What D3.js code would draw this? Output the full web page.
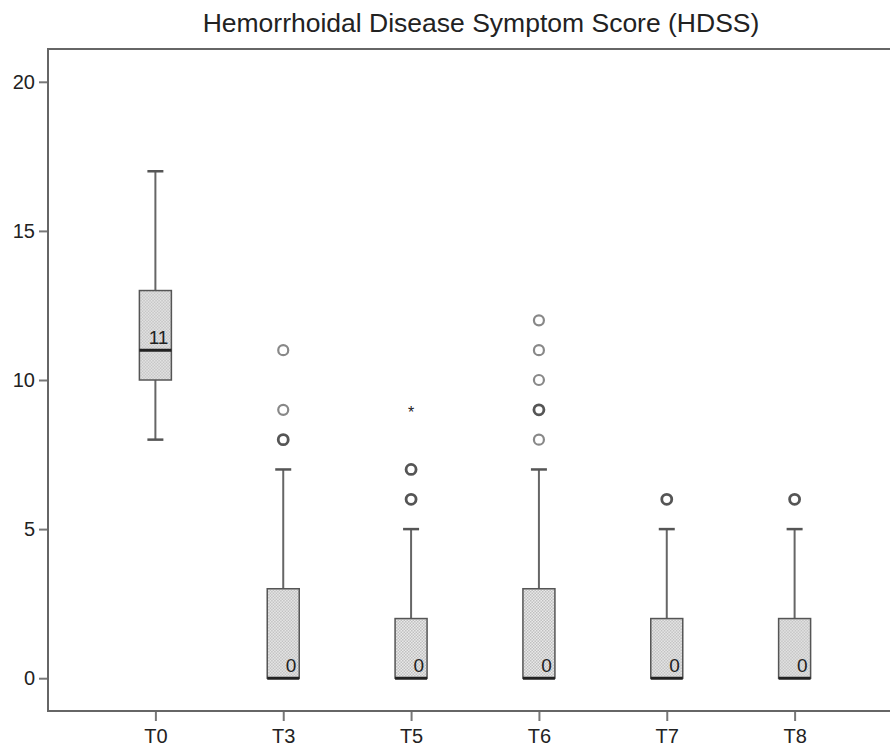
<!DOCTYPE html>
<html>
<head>
<meta charset="utf-8">
<script src="https://cdn.jsdelivr.net/npm/d3@7"></script>
<style>
  body { margin: 0; background: #fff; }
  text { font-family: "Liberation Sans", Arial, sans-serif; fill: #222; }
</style>
</head>
<body>
<svg class="chart" width="890" height="746"></svg>
<script>
// categories and box stats
var categories = ["T0", "T3", "T5", "T6", "T7", "T8"];
var whiskerLow  = [8, 0, 0, 0, 0, 0];
var q1          = [10, 0, 0, 0, 0, 0];
var median      = [11, 0, 0, 0, 0, 0];
var q3          = [13, 3, 2, 3, 2, 2];
var whiskerHigh = [17, 7, 5, 7, 5, 5];
// outliers: [category, value, overlapping count]
var outliers = [
    ["T3", 8, 2], ["T3", 9, 1], ["T3", 11, 1],
    ["T5", 6, 2], ["T5", 7, 2],
    ["T6", 8, 1], ["T6", 9, 2], ["T6", 10, 1], ["T6", 11, 1], ["T6", 12, 1],
    ["T7", 6, 2],
    ["T8", 6, 2]
];
// extremes (drawn as *)
var extremes = [["T5", 9]];
var yTicks = [0, 5, 10, 15, 20];
var title = "Hemorrhoidal Disease Symptom Score (HDSS)";

var svg = d3.select(".chart");

var plotLeft = 48, plotTop = 49, plotBottom = 711, plotRight = 902;

var x = d3.scalePoint()
    .domain(categories)
    .range([plotLeft, plotRight])
    .padding(0.84);

var y = d3.scaleLinear()
    .domain([-1.1, 21.1])
    .range([plotBottom, plotTop]);

// dotted fill pattern
var defs = svg.append("defs");
var pat = defs.append("pattern")
    .attr("id", "dots")
    .attr("width", 3)
    .attr("height", 3)
    .attr("patternUnits", "userSpaceOnUse");
pat.append("rect").attr("width", 3).attr("height", 3).attr("fill", "#ececec");
pat.append("rect").attr("width", 1.5).attr("height", 1.5).attr("fill", "#bdbdbd");
pat.append("rect").attr("x", 1.5).attr("y", 1.5).attr("width", 1.5).attr("height", 1.5).attr("fill", "#bdbdbd");

// title
svg.append("text")
    .attr("x", 481)
    .attr("y", 32)
    .attr("text-anchor", "middle")
    .style("font-size", "26.5px")
    .text(title);

// frame top line
svg.append("line")
    .attr("x1", plotLeft).attr("x2", 890)
    .attr("y1", plotTop).attr("y2", plotTop)
    .attr("stroke", "#666").attr("stroke-width", 2);

// axes
var yAxis = d3.axisLeft(y).tickValues(yTicks).tickSize(9).tickPadding(4);
var xAxis = d3.axisBottom(x).tickSize(10).tickPadding(8);

var gy = svg.append("g")
    .attr("transform", "translate(" + plotLeft + ",0)")
    .call(yAxis);
var gx = svg.append("g")
    .attr("transform", "translate(0," + plotBottom + ")")
    .call(xAxis);

[gx, gy].forEach(function (g) {
    g.select(".domain").remove();
    g.selectAll("line").attr("stroke", "#777").attr("stroke-width", 2);
    g.selectAll("text").style("font-size", "20px").attr("fill", "#222").style("font-family", "Liberation Sans, Arial, sans-serif");
});

svg.append("line")
    .attr("x1", plotLeft).attr("x2", plotLeft)
    .attr("y1", plotTop - 1).attr("y2", plotBottom + 1)
    .attr("stroke", "#666").attr("stroke-width", 2);
svg.append("line")
    .attr("x1", plotLeft).attr("x2", 890)
    .attr("y1", plotBottom).attr("y2", plotBottom)
    .attr("stroke", "#666").attr("stroke-width", 2);

// box data
var boxes = categories.map(function (c, i) {
    return { cat: c, lo: whiskerLow[i], q1: q1[i], med: median[i], q3: q3[i], hi: whiskerHigh[i] };
});

var boxW = 32, capW = 16;

var box = svg.selectAll(".box")
    .data(boxes)
    .enter().append("g")
    .attr("class", "box")
    .attr("transform", function (d) { return "translate(" + x(d.cat) + ",0)"; });

// whiskers
box.append("line")
    .attr("y1", function (d) { return y(d.q3); })
    .attr("y2", function (d) { return y(d.hi); })
    .attr("stroke", "#666").attr("stroke-width", 2);
box.append("line")
    .attr("y1", function (d) { return y(d.q1); })
    .attr("y2", function (d) { return y(d.lo); })
    .attr("stroke", "#666").attr("stroke-width", 2);
box.append("line")
    .attr("x1", -capW / 2).attr("x2", capW / 2)
    .attr("y1", function (d) { return y(d.hi); })
    .attr("y2", function (d) { return y(d.hi); })
    .attr("stroke", "#555").attr("stroke-width", 2.5);
box.filter(function (d) { return d.lo < d.q1; }).append("line")
    .attr("x1", -capW / 2).attr("x2", capW / 2)
    .attr("y1", function (d) { return y(d.lo); })
    .attr("y2", function (d) { return y(d.lo); })
    .attr("stroke", "#555").attr("stroke-width", 2.5);

// box
box.append("rect")
    .attr("x", -boxW / 2)
    .attr("width", boxW)
    .attr("y", function (d) { return y(d.q3); })
    .attr("height", function (d) { return y(d.q1) - y(d.q3); })
    .attr("fill", "url(#dots)")
    .attr("stroke", "#555").attr("stroke-width", 1.5);

// median
box.append("line")
    .attr("x1", -boxW / 2).attr("x2", boxW / 2)
    .attr("y1", function (d) { return y(d.med); })
    .attr("y2", function (d) { return y(d.med); })
    .attr("stroke", "#222").attr("stroke-width", 3);

box.append("text")
    .attr("x", boxW / 2 - 3)
    .attr("y", function (d) { return y(d.med) - 6; })
    .attr("text-anchor", "end")
    .style("font-size", "19px")
    .text(function (d) { return d.med; });

// outliers
svg.selectAll(".outlier")
    .data(outliers)
    .enter().append("circle")
    .attr("class", "outlier")
    .attr("cx", function (d) { return x(d[0]); })
    .attr("cy", function (d) { return y(d[1]); })
    .attr("r", 5)
    .attr("fill", "none")
    .attr("stroke", function (d) { return d[2] > 1 ? "#555" : "#888"; })
    .attr("stroke-width", function (d) { return d[2] > 1 ? 2.8 : 2.2; });

svg.selectAll(".extreme")
    .data(extremes)
    .enter().append("text")
    .attr("class", "extreme")
    .attr("x", function (d) { return x(d[0]); })
    .attr("y", function (d) { return y(d[1]) + 8; })
    .attr("text-anchor", "middle")
    .style("font-size", "16px")
    .text("*");
</script>
</body>
</html>
